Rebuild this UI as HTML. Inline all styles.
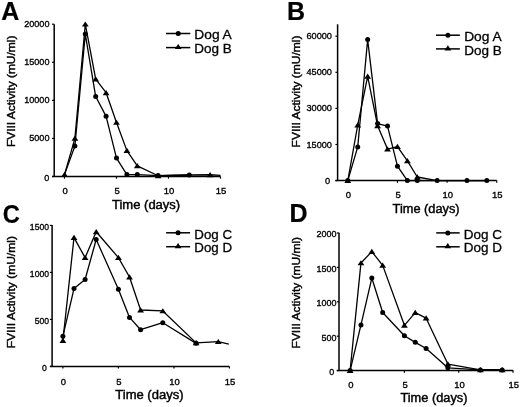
<!DOCTYPE html>
<html><head><meta charset="utf-8"><style>
html,body{margin:0;padding:0;background:#fff;}
svg{display:block;}
text{font-family:"Liberation Sans", sans-serif;fill:#000;stroke:#000;stroke-width:0.42px;}
.let{stroke-width:0.2px;}
.tk{stroke-width:0.35px;}
.lg{stroke-width:0.3px;}
</style></head><body>
<svg width="520" height="407" viewBox="0 0 520 407">
<defs><filter id="bl" x="0" y="0" width="100%" height="100%"><feGaussianBlur stdDeviation="0.35"/></filter></defs>
<rect width="520" height="407" fill="#fff"/>
<g filter="url(#bl)">
<rect width="520" height="407" fill="#fff"/>
<line x1="54.2" y1="24.2" x2="54.2" y2="176.5" stroke="#000" stroke-width="1.5"/>
<line x1="52.0" y1="176.5" x2="220.5" y2="176.5" stroke="#000" stroke-width="1.5"/>
<line x1="52.0" y1="176.50" x2="54.2" y2="176.50" stroke="#000" stroke-width="1.2"/>
<text x="49.30" y="181.00" font-size="9.5" text-anchor="end" class="tk" textLength="5.06" lengthAdjust="spacingAndGlyphs">0</text>
<line x1="52.0" y1="138.43" x2="54.2" y2="138.43" stroke="#000" stroke-width="1.2"/>
<text x="49.50" y="141.43" font-size="9.5" text-anchor="end" class="tk" textLength="20.24" lengthAdjust="spacingAndGlyphs">5000</text>
<line x1="52.0" y1="100.35" x2="54.2" y2="100.35" stroke="#000" stroke-width="1.2"/>
<text x="49.50" y="103.35" font-size="9.5" text-anchor="end" class="tk" textLength="25.30" lengthAdjust="spacingAndGlyphs">10000</text>
<line x1="52.0" y1="62.27" x2="54.2" y2="62.27" stroke="#000" stroke-width="1.2"/>
<text x="49.50" y="65.27" font-size="9.5" text-anchor="end" class="tk" textLength="25.30" lengthAdjust="spacingAndGlyphs">15000</text>
<line x1="52.0" y1="24.20" x2="54.2" y2="24.20" stroke="#000" stroke-width="1.2"/>
<text x="49.50" y="27.20" font-size="9.5" text-anchor="end" class="tk" textLength="25.30" lengthAdjust="spacingAndGlyphs">20000</text>
<line x1="64.50" y1="176.5" x2="64.50" y2="178.7" stroke="#000" stroke-width="1.2"/>
<text x="65.10" y="194.1" font-size="9.5" text-anchor="middle" class="tk" textLength="5.28" lengthAdjust="spacingAndGlyphs">0</text>
<line x1="116.50" y1="176.5" x2="116.50" y2="178.7" stroke="#000" stroke-width="1.2"/>
<text x="117.10" y="194.1" font-size="9.5" text-anchor="middle" class="tk" textLength="5.28" lengthAdjust="spacingAndGlyphs">5</text>
<line x1="168.50" y1="176.5" x2="168.50" y2="178.7" stroke="#000" stroke-width="1.2"/>
<text x="169.10" y="194.1" font-size="9.5" text-anchor="middle" class="tk" textLength="10.56" lengthAdjust="spacingAndGlyphs">10</text>
<line x1="220.50" y1="176.5" x2="220.50" y2="178.7" stroke="#000" stroke-width="1.2"/>
<text x="221.10" y="194.1" font-size="9.5" text-anchor="middle" class="tk" textLength="10.56" lengthAdjust="spacingAndGlyphs">15</text>
<text x="112.0" y="208.6" font-size="12.3" textLength="68.2" lengthAdjust="spacingAndGlyphs">Time (days)</text>
<text transform="translate(14.7,147.1) rotate(-90)" font-size="11.6" textLength="111.5" lengthAdjust="spacingAndGlyphs">FVIII Activity (mU/ml)</text>
<text class="let" x="1.3" y="19.8" font-size="25" font-weight="bold">A</text>
<polyline points="64.50,174.60 74.90,146.04 85.30,34.10 95.70,96.54 106.10,116.34 116.50,158.07 126.90,174.60 137.30,174.60 158.10,175.59 189.30,174.98" fill="none" stroke="#000" stroke-width="1.3" stroke-linejoin="round"/>
<polyline points="64.50,174.60 74.90,138.43 85.30,24.20 95.70,79.03 106.10,92.73 116.50,122.43 126.90,150.61 137.30,165.84 158.10,175.74 189.30,174.98 210.10,174.75 220.50,175.36" fill="none" stroke="#000" stroke-width="1.3" stroke-linejoin="round"/>
<circle cx="74.90" cy="146.04" r="2.5" fill="#000"/>
<circle cx="85.30" cy="34.10" r="2.5" fill="#000"/>
<circle cx="95.70" cy="96.54" r="2.5" fill="#000"/>
<circle cx="106.10" cy="116.34" r="2.5" fill="#000"/>
<circle cx="116.50" cy="158.07" r="2.5" fill="#000"/>
<circle cx="126.90" cy="174.60" r="2.5" fill="#000"/>
<circle cx="137.30" cy="174.60" r="2.5" fill="#000"/>
<circle cx="158.10" cy="175.59" r="2.5" fill="#000"/>
<circle cx="189.30" cy="174.98" r="2.5" fill="#000"/>
<polygon points="64.50,171.80 67.90,177.00 61.10,177.00" fill="#000"/>
<polygon points="74.90,135.62 78.30,140.83 71.50,140.83" fill="#000"/>
<polygon points="85.30,21.40 88.70,26.60 81.90,26.60" fill="#000"/>
<polygon points="95.70,76.23 99.10,81.43 92.30,81.43" fill="#000"/>
<polygon points="106.10,89.93 109.50,95.13 102.70,95.13" fill="#000"/>
<polygon points="116.50,119.63 119.90,124.83 113.10,124.83" fill="#000"/>
<polygon points="126.90,147.81 130.30,153.01 123.50,153.01" fill="#000"/>
<polygon points="137.30,163.04 140.70,168.24 133.90,168.24" fill="#000"/>
<polygon points="158.10,172.94 161.50,178.14 154.70,178.14" fill="#000"/>
<polygon points="210.10,171.95 213.50,177.15 206.70,177.15" fill="#000"/>
<line x1="166" y1="33.5" x2="190.3" y2="33.5" stroke="#000" stroke-width="1.5"/>
<circle cx="178.20" cy="33.50" r="2.5" fill="#000"/>
<text class="lg" x="194.3" y="39.4" font-size="13.2" textLength="37.5" lengthAdjust="spacingAndGlyphs">Dog A</text>
<line x1="166" y1="47.6" x2="190.3" y2="47.6" stroke="#000" stroke-width="1.5"/>
<polygon points="178.20,43.90 181.60,49.10 174.80,49.10" fill="#000"/>
<text class="lg" x="194.3" y="53.0" font-size="13.2" textLength="37.5" lengthAdjust="spacingAndGlyphs">Dog B</text>
<line x1="337.6" y1="24.3" x2="337.6" y2="180.6" stroke="#000" stroke-width="1.5"/>
<line x1="335.40000000000003" y1="180.6" x2="496.7" y2="180.6" stroke="#000" stroke-width="1.5"/>
<line x1="335.40000000000003" y1="180.60" x2="337.6" y2="180.60" stroke="#000" stroke-width="1.2"/>
<text x="330.00" y="183.70" font-size="9.5" text-anchor="end" class="tk" textLength="5.12" lengthAdjust="spacingAndGlyphs">0</text>
<line x1="335.40000000000003" y1="144.50" x2="337.6" y2="144.50" stroke="#000" stroke-width="1.2"/>
<text x="332.00" y="147.50" font-size="9.5" text-anchor="end" class="tk" textLength="25.58" lengthAdjust="spacingAndGlyphs">15000</text>
<line x1="335.40000000000003" y1="108.40" x2="337.6" y2="108.40" stroke="#000" stroke-width="1.2"/>
<text x="332.00" y="111.40" font-size="9.5" text-anchor="end" class="tk" textLength="25.58" lengthAdjust="spacingAndGlyphs">30000</text>
<line x1="335.40000000000003" y1="72.30" x2="337.6" y2="72.30" stroke="#000" stroke-width="1.2"/>
<text x="332.00" y="75.30" font-size="9.5" text-anchor="end" class="tk" textLength="25.58" lengthAdjust="spacingAndGlyphs">45000</text>
<line x1="335.40000000000003" y1="36.20" x2="337.6" y2="36.20" stroke="#000" stroke-width="1.2"/>
<text x="332.00" y="39.20" font-size="9.5" text-anchor="end" class="tk" textLength="25.58" lengthAdjust="spacingAndGlyphs">60000</text>
<line x1="347.80" y1="180.6" x2="347.80" y2="182.79999999999998" stroke="#000" stroke-width="1.2"/>
<text x="348.40" y="198.4" font-size="9.5" text-anchor="middle" class="tk" textLength="5.28" lengthAdjust="spacingAndGlyphs">0</text>
<line x1="397.45" y1="180.6" x2="397.45" y2="182.79999999999998" stroke="#000" stroke-width="1.2"/>
<text x="398.05" y="198.4" font-size="9.5" text-anchor="middle" class="tk" textLength="5.28" lengthAdjust="spacingAndGlyphs">5</text>
<line x1="447.10" y1="180.6" x2="447.10" y2="182.79999999999998" stroke="#000" stroke-width="1.2"/>
<text x="447.70" y="198.4" font-size="9.5" text-anchor="middle" class="tk" textLength="10.56" lengthAdjust="spacingAndGlyphs">10</text>
<line x1="496.75" y1="180.6" x2="496.75" y2="182.79999999999998" stroke="#000" stroke-width="1.2"/>
<text x="497.35" y="198.4" font-size="9.5" text-anchor="middle" class="tk" textLength="10.56" lengthAdjust="spacingAndGlyphs">15</text>
<text x="392.6" y="212.6" font-size="12.3" textLength="67.0" lengthAdjust="spacingAndGlyphs">Time (days)</text>
<text transform="translate(300.2,147.4) rotate(-90)" font-size="11.6" textLength="111.8" lengthAdjust="spacingAndGlyphs">FVIII Activity (mU/ml)</text>
<text class="let" x="286.9" y="20.1" font-size="25" font-weight="bold">B</text>
<polyline points="347.80,180.60 357.73,146.91 367.66,39.57 377.59,123.56 387.52,126.09 397.45,166.16 407.38,180.60 417.31,180.60 437.17,180.60 466.96,180.60 486.82,180.60" fill="none" stroke="#000" stroke-width="1.3" stroke-linejoin="round"/>
<polyline points="347.80,180.60 357.73,125.01 367.66,76.39 377.59,125.73 387.52,149.07 397.45,146.67 407.38,160.87 417.31,176.99 437.17,180.60 466.96,180.60 486.82,180.60" fill="none" stroke="#000" stroke-width="1.3" stroke-linejoin="round"/>
<polygon points="347.80,177.80 351.20,183.00 344.40,183.00" fill="#000"/>
<polygon points="357.73,122.21 361.13,127.41 354.33,127.41" fill="#000"/>
<polygon points="367.66,73.59 371.06,78.79 364.26,78.79" fill="#000"/>
<polygon points="377.59,122.93 380.99,128.13 374.19,128.13" fill="#000"/>
<polygon points="387.52,146.27 390.92,151.47 384.12,151.47" fill="#000"/>
<polygon points="397.45,143.87 400.85,149.07 394.05,149.07" fill="#000"/>
<polygon points="407.38,158.07 410.78,163.27 403.98,163.27" fill="#000"/>
<polygon points="417.31,174.19 420.71,179.39 413.91,179.39" fill="#000"/>
<circle cx="347.80" cy="180.60" r="2.5" fill="#000"/>
<circle cx="357.73" cy="146.91" r="2.5" fill="#000"/>
<circle cx="367.66" cy="39.57" r="2.5" fill="#000"/>
<circle cx="377.59" cy="123.56" r="2.5" fill="#000"/>
<circle cx="387.52" cy="126.09" r="2.5" fill="#000"/>
<circle cx="397.45" cy="166.16" r="2.5" fill="#000"/>
<circle cx="407.38" cy="180.60" r="2.5" fill="#000"/>
<circle cx="417.31" cy="180.60" r="2.5" fill="#000"/>
<circle cx="437.17" cy="180.60" r="2.5" fill="#000"/>
<circle cx="466.96" cy="180.60" r="2.5" fill="#000"/>
<circle cx="486.82" cy="180.60" r="2.5" fill="#000"/>
<line x1="436" y1="35.2" x2="459.9" y2="35.2" stroke="#000" stroke-width="1.5"/>
<circle cx="447.90" cy="35.20" r="2.5" fill="#000"/>
<text class="lg" x="464.2" y="41.2" font-size="13.2" textLength="37.5" lengthAdjust="spacingAndGlyphs">Dog A</text>
<line x1="436" y1="48.9" x2="459.9" y2="48.9" stroke="#000" stroke-width="1.5"/>
<polygon points="447.90,45.20 451.30,50.40 444.50,50.40" fill="#000"/>
<text class="lg" x="464.2" y="54.5" font-size="13.2" textLength="37.5" lengthAdjust="spacingAndGlyphs">Dog B</text>
<line x1="52.1" y1="225.0" x2="52.1" y2="366.4" stroke="#000" stroke-width="1.5"/>
<line x1="49.9" y1="366.4" x2="229.4" y2="366.4" stroke="#000" stroke-width="1.5"/>
<line x1="49.9" y1="366.40" x2="52.1" y2="366.40" stroke="#000" stroke-width="1.2"/>
<text x="46.70" y="371.20" font-size="9.5" text-anchor="end" class="tk" textLength="4.78" lengthAdjust="spacingAndGlyphs">0</text>
<line x1="49.9" y1="319.40" x2="52.1" y2="319.40" stroke="#000" stroke-width="1.2"/>
<text x="49.00" y="323.80" font-size="9.5" text-anchor="end" class="tk" textLength="14.34" lengthAdjust="spacingAndGlyphs">500</text>
<line x1="49.9" y1="272.40" x2="52.1" y2="272.40" stroke="#000" stroke-width="1.2"/>
<text x="49.00" y="276.80" font-size="9.5" text-anchor="end" class="tk" textLength="19.13" lengthAdjust="spacingAndGlyphs">1000</text>
<line x1="49.9" y1="225.40" x2="52.1" y2="225.40" stroke="#000" stroke-width="1.2"/>
<text x="49.00" y="229.80" font-size="9.5" text-anchor="end" class="tk" textLength="19.13" lengthAdjust="spacingAndGlyphs">1500</text>
<line x1="62.90" y1="366.4" x2="62.90" y2="368.59999999999997" stroke="#000" stroke-width="1.2"/>
<text x="63.50" y="384.6" font-size="9.5" text-anchor="middle" class="tk" textLength="5.28" lengthAdjust="spacingAndGlyphs">0</text>
<line x1="118.40" y1="366.4" x2="118.40" y2="368.59999999999997" stroke="#000" stroke-width="1.2"/>
<text x="119.00" y="384.6" font-size="9.5" text-anchor="middle" class="tk" textLength="5.28" lengthAdjust="spacingAndGlyphs">5</text>
<line x1="173.90" y1="366.4" x2="173.90" y2="368.59999999999997" stroke="#000" stroke-width="1.2"/>
<text x="174.50" y="384.6" font-size="9.5" text-anchor="middle" class="tk" textLength="10.56" lengthAdjust="spacingAndGlyphs">10</text>
<line x1="229.40" y1="366.4" x2="229.40" y2="368.59999999999997" stroke="#000" stroke-width="1.2"/>
<text x="230.00" y="384.6" font-size="9.5" text-anchor="middle" class="tk" textLength="10.56" lengthAdjust="spacingAndGlyphs">15</text>
<text x="115.3" y="398.6" font-size="12.3" textLength="68.2" lengthAdjust="spacingAndGlyphs">Time (days)</text>
<text transform="translate(14.7,348.3) rotate(-90)" font-size="11.6" textLength="112.2" lengthAdjust="spacingAndGlyphs">FVIII Activity (mU/ml)</text>
<text class="let" x="2.7" y="222.8" font-size="25" font-weight="bold" textLength="17.1" lengthAdjust="spacingAndGlyphs">C</text>
<polyline points="62.90,336.13 74.00,288.57 85.10,279.54 96.20,239.50 118.40,289.32 129.50,317.43 140.60,329.74 162.80,322.69 196.10,343.37" fill="none" stroke="#000" stroke-width="1.3" stroke-linejoin="round"/>
<polyline points="62.90,340.55 74.00,237.62 85.10,257.64 96.20,231.79 118.40,257.64 129.50,277.01 140.60,310.00 162.80,310.94 196.10,342.90 218.30,341.68 228.84,344.03" fill="none" stroke="#000" stroke-width="1.3" stroke-linejoin="round"/>
<circle cx="62.90" cy="336.13" r="2.5" fill="#000"/>
<circle cx="74.00" cy="288.57" r="2.5" fill="#000"/>
<circle cx="85.10" cy="279.54" r="2.5" fill="#000"/>
<circle cx="96.20" cy="239.50" r="2.5" fill="#000"/>
<circle cx="118.40" cy="289.32" r="2.5" fill="#000"/>
<circle cx="129.50" cy="317.43" r="2.5" fill="#000"/>
<circle cx="140.60" cy="329.74" r="2.5" fill="#000"/>
<circle cx="162.80" cy="322.69" r="2.5" fill="#000"/>
<circle cx="196.10" cy="343.37" r="2.5" fill="#000"/>
<polygon points="62.90,337.75 66.30,342.95 59.50,342.95" fill="#000"/>
<polygon points="74.00,234.82 77.40,240.02 70.60,240.02" fill="#000"/>
<polygon points="85.10,254.84 88.50,260.04 81.70,260.04" fill="#000"/>
<polygon points="96.20,228.99 99.60,234.19 92.80,234.19" fill="#000"/>
<polygon points="118.40,254.84 121.80,260.04 115.00,260.04" fill="#000"/>
<polygon points="129.50,274.21 132.90,279.41 126.10,279.41" fill="#000"/>
<polygon points="140.60,307.20 144.00,312.40 137.20,312.40" fill="#000"/>
<polygon points="162.80,308.14 166.20,313.34 159.40,313.34" fill="#000"/>
<polygon points="196.10,340.10 199.50,345.30 192.70,345.30" fill="#000"/>
<polygon points="218.30,338.88 221.70,344.08 214.90,344.08" fill="#000"/>
<line x1="166.1" y1="232.8" x2="190.1" y2="232.8" stroke="#000" stroke-width="1.5"/>
<circle cx="178.10" cy="232.80" r="2.5" fill="#000"/>
<text class="lg" x="194.3" y="238.5" font-size="13.2" textLength="37.8" lengthAdjust="spacingAndGlyphs">Dog C</text>
<line x1="166.1" y1="246.7" x2="190.1" y2="246.7" stroke="#000" stroke-width="1.5"/>
<polygon points="178.10,243.00 181.50,248.20 174.70,248.20" fill="#000"/>
<text class="lg" x="194.3" y="252.3" font-size="13.2" textLength="37.8" lengthAdjust="spacingAndGlyphs">Dog D</text>
<line x1="339.0" y1="232.7" x2="339.0" y2="370.6" stroke="#000" stroke-width="1.5"/>
<line x1="336.8" y1="370.6" x2="513.3" y2="370.6" stroke="#000" stroke-width="1.5"/>
<line x1="336.8" y1="370.60" x2="339.0" y2="370.60" stroke="#000" stroke-width="1.2"/>
<text x="334.30" y="375.00" font-size="9.5" text-anchor="end" class="tk" textLength="5.00" lengthAdjust="spacingAndGlyphs">0</text>
<line x1="336.8" y1="336.20" x2="339.0" y2="336.20" stroke="#000" stroke-width="1.2"/>
<text x="336.60" y="340.60" font-size="9.5" text-anchor="end" class="tk" textLength="15.01" lengthAdjust="spacingAndGlyphs">500</text>
<line x1="336.8" y1="301.80" x2="339.0" y2="301.80" stroke="#000" stroke-width="1.2"/>
<text x="336.60" y="306.20" font-size="9.5" text-anchor="end" class="tk" textLength="20.02" lengthAdjust="spacingAndGlyphs">1000</text>
<line x1="336.8" y1="267.40" x2="339.0" y2="267.40" stroke="#000" stroke-width="1.2"/>
<text x="336.60" y="271.80" font-size="9.5" text-anchor="end" class="tk" textLength="20.02" lengthAdjust="spacingAndGlyphs">1500</text>
<line x1="336.8" y1="233.00" x2="339.0" y2="233.00" stroke="#000" stroke-width="1.2"/>
<text x="336.60" y="237.40" font-size="9.5" text-anchor="end" class="tk" textLength="20.02" lengthAdjust="spacingAndGlyphs">2000</text>
<line x1="350.10" y1="370.6" x2="350.10" y2="372.8" stroke="#000" stroke-width="1.2"/>
<text x="350.90" y="387.9" font-size="9.5" text-anchor="middle" class="tk" textLength="5.28" lengthAdjust="spacingAndGlyphs">0</text>
<line x1="404.40" y1="370.6" x2="404.40" y2="372.8" stroke="#000" stroke-width="1.2"/>
<text x="405.20" y="387.9" font-size="9.5" text-anchor="middle" class="tk" textLength="5.28" lengthAdjust="spacingAndGlyphs">5</text>
<line x1="458.70" y1="370.6" x2="458.70" y2="372.8" stroke="#000" stroke-width="1.2"/>
<text x="459.50" y="387.9" font-size="9.5" text-anchor="middle" class="tk" textLength="10.56" lengthAdjust="spacingAndGlyphs">10</text>
<line x1="513.00" y1="370.6" x2="513.00" y2="372.8" stroke="#000" stroke-width="1.2"/>
<text x="513.80" y="387.9" font-size="9.5" text-anchor="middle" class="tk" textLength="10.56" lengthAdjust="spacingAndGlyphs">15</text>
<text x="400.4" y="402.3" font-size="12.3" textLength="67.1" lengthAdjust="spacingAndGlyphs">Time (days)</text>
<text transform="translate(300.4,348.4) rotate(-90)" font-size="11.6" textLength="111.5" lengthAdjust="spacingAndGlyphs">FVIII Activity (mU/ml)</text>
<text class="let" x="289.5" y="221.5" font-size="25" font-weight="bold">D</text>
<polyline points="350.10,370.60 360.96,324.92 371.82,278.06 382.68,312.46 404.40,335.72 415.26,342.32 426.12,348.52 447.84,367.85 480.42,369.91 502.14,369.91" fill="none" stroke="#000" stroke-width="1.3" stroke-linejoin="round"/>
<polyline points="350.10,370.60 360.96,262.93 371.82,251.58 382.68,265.40 404.40,325.33 415.26,312.67 426.12,318.17 447.84,364.06 480.42,369.77 502.14,369.77" fill="none" stroke="#000" stroke-width="1.3" stroke-linejoin="round"/>
<circle cx="350.10" cy="370.60" r="2.5" fill="#000"/>
<circle cx="360.96" cy="324.92" r="2.5" fill="#000"/>
<circle cx="371.82" cy="278.06" r="2.5" fill="#000"/>
<circle cx="382.68" cy="312.46" r="2.5" fill="#000"/>
<circle cx="404.40" cy="335.72" r="2.5" fill="#000"/>
<circle cx="415.26" cy="342.32" r="2.5" fill="#000"/>
<circle cx="426.12" cy="348.52" r="2.5" fill="#000"/>
<circle cx="447.84" cy="367.85" r="2.5" fill="#000"/>
<circle cx="480.42" cy="369.91" r="2.5" fill="#000"/>
<circle cx="502.14" cy="369.91" r="2.5" fill="#000"/>
<polygon points="350.10,367.80 353.50,373.00 346.70,373.00" fill="#000"/>
<polygon points="360.96,260.13 364.36,265.33 357.56,265.33" fill="#000"/>
<polygon points="371.82,248.78 375.22,253.98 368.42,253.98" fill="#000"/>
<polygon points="382.68,262.60 386.08,267.80 379.28,267.80" fill="#000"/>
<polygon points="404.40,322.53 407.80,327.73 401.00,327.73" fill="#000"/>
<polygon points="415.26,309.87 418.66,315.07 411.86,315.07" fill="#000"/>
<polygon points="426.12,315.37 429.52,320.57 422.72,320.57" fill="#000"/>
<polygon points="447.84,361.26 451.24,366.46 444.44,366.46" fill="#000"/>
<polygon points="480.42,366.97 483.82,372.17 477.02,372.17" fill="#000"/>
<polygon points="502.14,366.97 505.54,372.17 498.74,372.17" fill="#000"/>
<line x1="436.2" y1="232.9" x2="459.7" y2="232.9" stroke="#000" stroke-width="1.5"/>
<circle cx="447.80" cy="232.90" r="2.5" fill="#000"/>
<text class="lg" x="463.8" y="239.0" font-size="13.2" textLength="38.2" lengthAdjust="spacingAndGlyphs">Dog C</text>
<line x1="436.2" y1="246.8" x2="459.7" y2="246.8" stroke="#000" stroke-width="1.5"/>
<polygon points="447.80,243.10 451.20,248.30 444.40,248.30" fill="#000"/>
<text class="lg" x="463.8" y="252.3" font-size="13.2" textLength="38.2" lengthAdjust="spacingAndGlyphs">Dog D</text>
</g>
</svg>
</body></html>
